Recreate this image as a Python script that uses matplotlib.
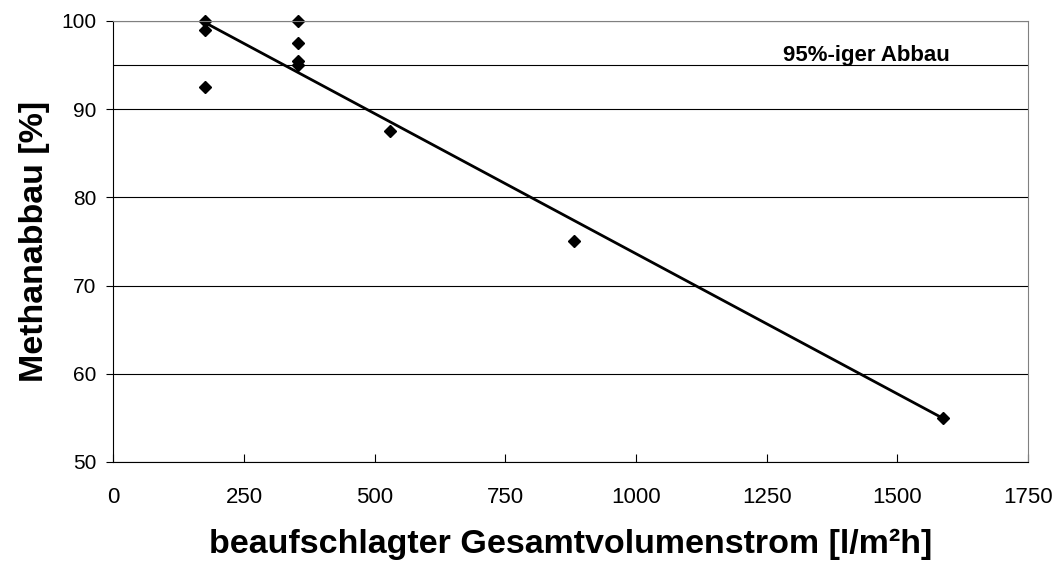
import numpy as np
import matplotlib
matplotlib.use('Agg')
import matplotlib.pyplot as plt
import matplotlib.ticker as ticker

plt.rcParams['font.family'] = ['Liberation Sans', 'DejaVu Sans']

# Messwerte
volumenstrom = [176, 176, 176, 353, 353, 353, 353, 529, 882, 1587]
abbau = [100, 99, 92.5, 100, 97.5, 95.5, 95, 87.5, 75, 55]
grenzwert = 95
x_ticks = [0, 250, 500, 750, 1000, 1250, 1500, 1750]
y_ticks = [50, 60, 70, 80, 90, 100]


def trend(x, y):
  # lineare Trendlinie wie in Excel
  m, b = np.polyfit(x, y, 1)
  xs = np.array([min(x), max(x)])
  return xs, m * xs + b


def scatterplot():
  fig = plt.figure(figsize=(10.58, 5.61), dpi=100)
  axes = fig.add_axes([0.1071, 0.1765, 0.8645, 0.7861])
  #
  axes.set_xlim(0, 1750)
  axes.set_ylim(50, 100)
  axes.set_xticks(x_ticks)
  axes.set_yticks(y_ticks)
  axes.tick_params(axis='x', direction='in', length=6, pad=18, labelsize=16)
  axes.tick_params(axis='y', direction='out', length=5, pad=7, labelsize=15)
  axes.yaxis.grid(True, color='black', linewidth=0.8)
  axes.set_axisbelow(True)
  #
  for s in ['top', 'right']:
    axes.spines[s].set_color('#808080')
  for s in ['left', 'bottom']:
    axes.spines[s].set_color('black')
  #
  axes.axhline(grenzwert, color='black', linewidth=0.8)
  axes.text(1441, grenzwert + 0.5, '95%-iger Abbau', ha='center', va='baseline',
            fontsize=16, fontweight='bold')
  #
  tx, ty = trend(volumenstrom, abbau)
  axes.plot(tx, ty, color='black', linewidth=2)
  axes.plot(volumenstrom, abbau, 'D', color='black', markersize=6.5, clip_on=False)
  #
  axes.set_xlabel('beaufschlagter Gesamtvolumenstrom [l/m²h]', fontsize=24.5,
                  fontweight='bold', labelpad=15)
  axes.set_ylabel('Methanabbau [%]', fontsize=24.5, fontweight='bold', labelpad=8)
  #
  fig.savefig('out.png', dpi=100)


def main():
  scatterplot()

main()
